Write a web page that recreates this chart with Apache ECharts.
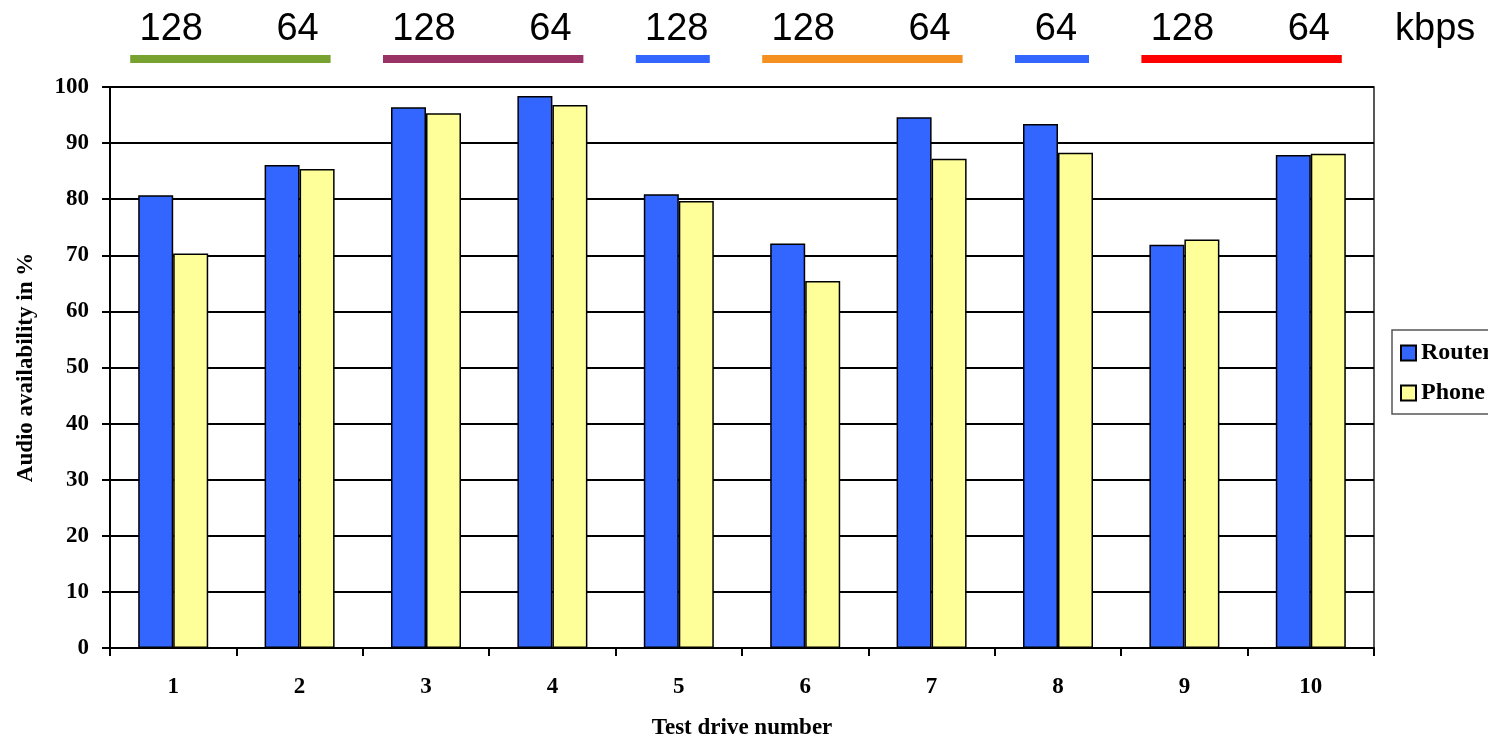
<!DOCTYPE html>
<html>
<head>
<meta charset="utf-8">
<script src="https://cdn.jsdelivr.net/npm/echarts@6/dist/echarts.min.js"></script>
<style>
  html, body { margin: 0; padding: 0; background: #fff; }
  #chart { width: 1488px; height: 739px; }
</style>
</head>
<body>
<div id="chart"></div>
<script>
// Test drives along the x axis
const drives = ['1', '2', '3', '4', '5', '6', '7', '8', '9', '10'];
// Audio availability (%) per drive
const router = [80.7, 86.1, 96.4, 98.4, 80.9, 72.1, 94.6, 93.4, 71.9, 87.9];
const phone = [70.3, 85.4, 95.3, 96.8, 79.7, 65.4, 87.2, 88.3, 72.8, 88.1];
// Stream bitrate (kbps) used on each drive
const bitrates = [128, 64, 128, 64, 128, 128, 64, 64, 128, 64];
// Runs of drives sharing a setup: [first drive index, last drive index]
const rateGroups = [[0, 1], [2, 3], [4, 4], [5, 6], [7, 7], [8, 9]];
const groupColors = ['#78A22F', '#993366', '#3366FF', '#F39020', '#3366FF', '#FF0000'];
// Value axis ticks
const yTicks = { min: 0, max: 100, step: 10 };

const serif = 'Liberation Serif';
const sans = 'Liberation Sans';

const chart = echarts.init(document.getElementById('chart'));

chart.setOption({
  animation: false,
  backgroundColor: '#fff',
  grid: {
    left: 110, right: 114, top: 87, bottom: 91,
    outerBoundsMode: 'none',
    show: true, borderColor: '#222', borderWidth: 1.5, backgroundColor: 'transparent'
  },
  legend: {
    data: ['Router', 'Phone'],
    orient: 'vertical',
    left: 1392, top: 330,
    padding: [11, 10, 9, 8],
    borderColor: '#555', borderWidth: 1.5,
    itemWidth: 15, itemHeight: 15, itemGap: 16,
    icon: 'rect',
    textStyle: { fontFamily: serif, fontWeight: 'bold', fontSize: 24, color: '#000', lineHeight: 21 }
  },
  graphic: [{
    type: 'text', x: 1395, y: 30,
    style: { text: 'kbps', font: '38px "' + sans + '"', fill: '#000', align: 'left', verticalAlign: 'middle' }
  }],
  xAxis: {
    type: 'category',
    data: drives,
    name: 'Test drive number',
    nameLocation: 'middle',
    nameGap: 69,
    nameTextStyle: { fontFamily: serif, fontWeight: 'bold', fontSize: 23, color: '#000' },
    axisLine: { lineStyle: { color: '#000', width: 2 } },
    axisTick: { show: true, length: 8, lineStyle: { color: '#000', width: 2 } },
    axisLabel: { margin: 28, fontFamily: serif, fontWeight: 'bold', fontSize: 23, color: '#000' }
  },
  yAxis: {
    type: 'value',
    min: yTicks.min, max: yTicks.max, interval: yTicks.step,
    name: 'Audio availability in %',
    nameLocation: 'middle',
    nameGap: 72,
    nameRotate: 90,
    nameTextStyle: { fontFamily: serif, fontWeight: 'bold', fontSize: 23, color: '#000' },
    axisLine: { show: true, lineStyle: { color: '#000', width: 2 } },
    axisTick: { show: true, length: 8, lineStyle: { color: '#000', width: 2 } },
    axisLabel: { margin: 21, fontFamily: serif, fontWeight: 'bold', fontSize: 23, color: '#000' },
    splitLine: { show: true, lineStyle: { color: '#000', width: 2 } }
  },
  series: [
    {
      name: 'Router', type: 'bar', data: router,
      barWidth: 35, barGap: '0%',
      itemStyle: { color: '#3366FF', borderColor: '#000', borderWidth: 1.5 }
    },
    {
      name: 'Phone', type: 'bar', data: phone,
      barWidth: 35,
      itemStyle: { color: '#FFFF99', borderColor: '#000', borderWidth: 1.5 }
    },
    {
      // coloured strips marking runs of drives above the plot
      name: 'groups', type: 'custom', silent: true,
      data: rateGroups,
      encode: { x: 0 },
      renderItem: function (params, api) {
        const x1 = api.coord([api.value(0), 0])[0] - 43;
        const x2 = api.coord([api.value(1), 0])[0] + 31;
        const y = params.coordSys.y - 28;
        return {
          type: 'rect',
          shape: { x: x1, y: y - 4, width: x2 - x1, height: 8 },
          style: { fill: groupColors[params.dataIndex] }
        };
      }
    },
    {
      // bitrate label above each drive
      name: 'bitrate', type: 'custom', silent: true,
      data: bitrates.map((b, i) => [i, b]),
      encode: { x: 0 },
      renderItem: function (params, api) {
        const x = api.coord([api.value(0), 0])[0] - 2;
        const y = params.coordSys.y - 57;
        return {
          type: 'text',
          x: x, y: y,
          style: {
            text: String(api.value(1)),
            font: '38px "' + sans + '"',
            fill: '#000', align: 'center', verticalAlign: 'middle'
          }
        };
      }
    }
  ]
});
</script>
</body>
</html>
